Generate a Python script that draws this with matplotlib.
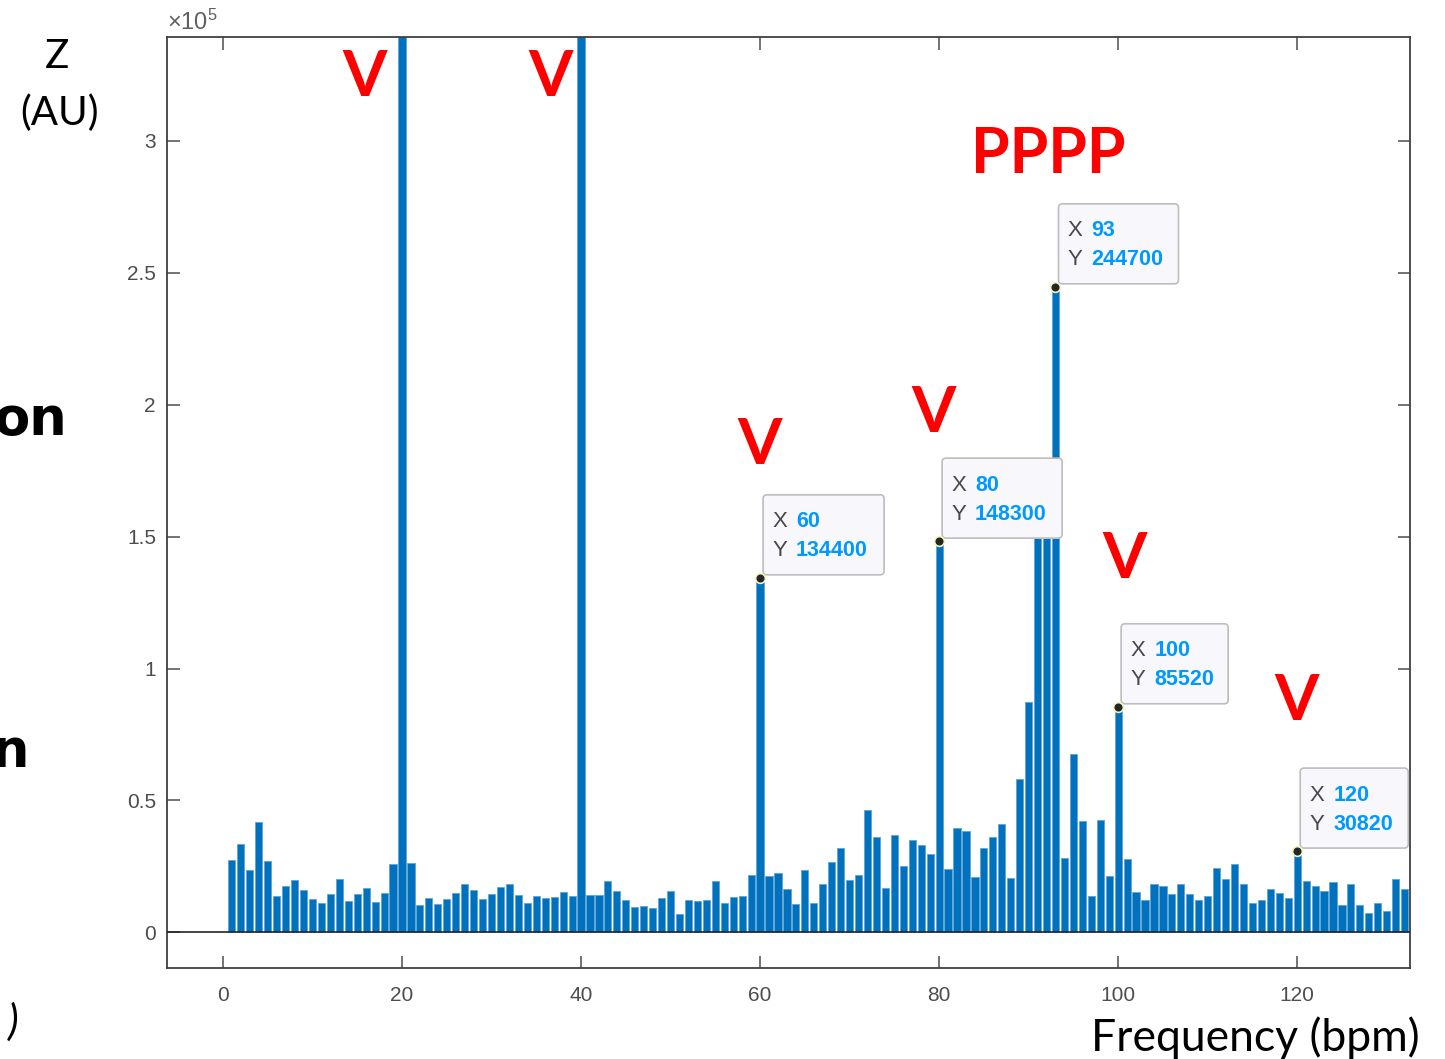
import numpy as np
import matplotlib
matplotlib.use("Agg")
import matplotlib.pyplot as plt
from matplotlib.patches import FancyBboxPatch
from matplotlib.transforms import IdentityTransform

W, H = 1445, 1059
BAR = "#0072BD"
INK = "#404040"
TIP = "#0099FF"
RED = "#FF0000"

plt.rcParams.update({
    "font.family": "Liberation Sans",
    "mathtext.fontset": "custom",
    "mathtext.rm": "Liberation Sans",
    "mathtext.it": "Liberation Sans",
})

# spectrum, one bin per bpm (1..132); bins 20 and 40 run off the top
freq = np.arange(1, 133)
amp = [
    27300, 33500, 23600, 42000, 27100, 13700, 17400, 19800, 16200, 12600,
    11200, 14400, 20200, 11800, 14400, 16700, 11600, 14800, 25800, 410000,
    26400, 10500, 13100, 10900, 12500, 14800, 18200, 16200, 12800, 14700,
    17100, 18200, 14300, 11100, 13700, 13100, 13500, 15300, 13700, 410000,
    14200, 14200, 19600, 15600, 12300, 9700, 9900, 9100, 13100, 15800,
    7100, 12100, 12000, 12400, 19600, 11300, 13300, 13900, 21700, 134400,
    21400, 22500, 16300, 10600, 23800, 11300, 18200, 26700, 31900, 20000,
    21600, 46500, 36000, 16800, 36800, 25200, 35000, 33100, 29800, 148300,
    24100, 39400, 38400, 21000, 31900, 36300, 41000, 20700, 58000, 87300,
    160000, 172000, 244700, 28200, 67600, 42200, 13800, 42600, 21400, 85520,
    27900, 15200, 12400, 18500, 17600, 14500, 18200, 14400, 12300, 13700,
    24500, 20200, 25900, 18200, 11300, 12400, 16300, 14800, 12900, 30820,
    19500, 17400, 15700, 19000, 10500, 18200, 10400, 7300, 11300, 8200,
    20100, 16300,
]

# data tips: (x, y, box width in px)
tip_x = [60, 80, 93, 100, 120]
tip_y = [134400, 148300, 244700, 85520, 30820]
tip_w = [121, 120, 120, 107, 108]

# red marks drawn over the chart, figure pixel positions
v_marks = [(365, 78), (551, 78), (760, 445), (934, 413), (1125, 560),
           (1297, 702)]

fig = plt.figure(figsize=(W / 100, H / 100), dpi=100)
ax = fig.add_axes([167 / W, (H - 968) / H, (1410 - 167) / W, (968 - 37) / H])

ax.bar(freq, amp, width=0.8, color=BAR, edgecolor="#5fa3d8", linewidth=0.6,
       zorder=2)
ax.axhline(0, color="#262626", lw=1.2, zorder=3)
ax.set_xlim(-6.25, 132.6)
ax.set_ylim(-0.135e5, 3.394e5)

ax.set_xticks(np.arange(0, 121, 20))
ax.set_yticks(np.arange(0, 3.01e5, 0.5e5))
ax.set_yticklabels(["0", "0.5", "1", "1.5", "2", "2.5", "3"])
ax.tick_params(direction="in", length=9, width=1.1, colors="#4d4d4d",
               labelsize=15, top=True, right=True)
ax.tick_params(axis="x", pad=13)
ax.tick_params(axis="y", pad=8)
for s in ax.spines.values():
    s.set_color(INK)
    s.set_linewidth(1.3)
ax.text(0.0, 1.002, r"$\times10^{5}$", transform=ax.transAxes,
        ha="left", va="bottom", fontsize=17, color="#606060")

# MATLAB-style data tips
for x, y, w in zip(tip_x, tip_y, tip_w):
    px, py = ax.transData.transform((x, y))
    bx, by = px + 3, py + 3
    ax.add_patch(FancyBboxPatch((bx, by), w, 80,
                                boxstyle="round,pad=0,rounding_size=4",
                                transform=IdentityTransform(),
                                facecolor="#F8F8FC", edgecolor="#BDBDBD",
                                lw=1.2, zorder=5, clip_on=False))
    ax.plot(x, y, "o", ms=7, mfc="#262626", mec="#F3F3C0", mew=1.2,
            zorder=6, clip_on=False)
    for row, (lab, val) in enumerate((("X", f"{x}"), ("Y", f"{y}"))):
        yy = by + 80 - 27 - 29 * row
        ax.text(bx + 9, yy, lab, transform=IdentityTransform(),
                ha="left", va="center", fontsize=16, color="#484848",
                zorder=7)
        ax.text(bx + 33, yy, val, transform=IdentityTransform(),
                ha="left", va="center", fontsize=15.5, color=TIP,
                fontweight="bold", zorder=7)


def ftext(x, y, s, **kw):
    fig.text(x / W, 1 - y / H, s, **kw)


for x, y in v_marks:
    ftext(x, y, "V", ha="center", va="center", fontsize=46,
          fontweight="bold", color=RED, family="Lato")
ftext(1048, 155, "PPPP", ha="center", va="center", fontsize=45,
      fontweight="bold", color=RED, family="Lato")

ftext(57, 57, "Z", ha="center", va="center", fontsize=29, family="Lato")
ftext(60, 113, "(AU)", ha="center", va="center", fontsize=29, family="Lato")
ftext(1420, 1038, "Frequency (bpm)", ha="right", va="center", fontsize=32,
      family="Lato")
# labels cut off at the left edge of the original slide
ftext(67, 420, "on", ha="right", va="center", fontsize=38,
      fontweight="bold", family="DejaVu Sans")
ftext(29, 752, "n", ha="right", va="center", fontsize=38,
      fontweight="bold", family="DejaVu Sans")
ftext(19, 1022, ")", ha="right", va="center", fontsize=30, family="Lato",
      style="italic")

fig.savefig("out.png", dpi=100)
